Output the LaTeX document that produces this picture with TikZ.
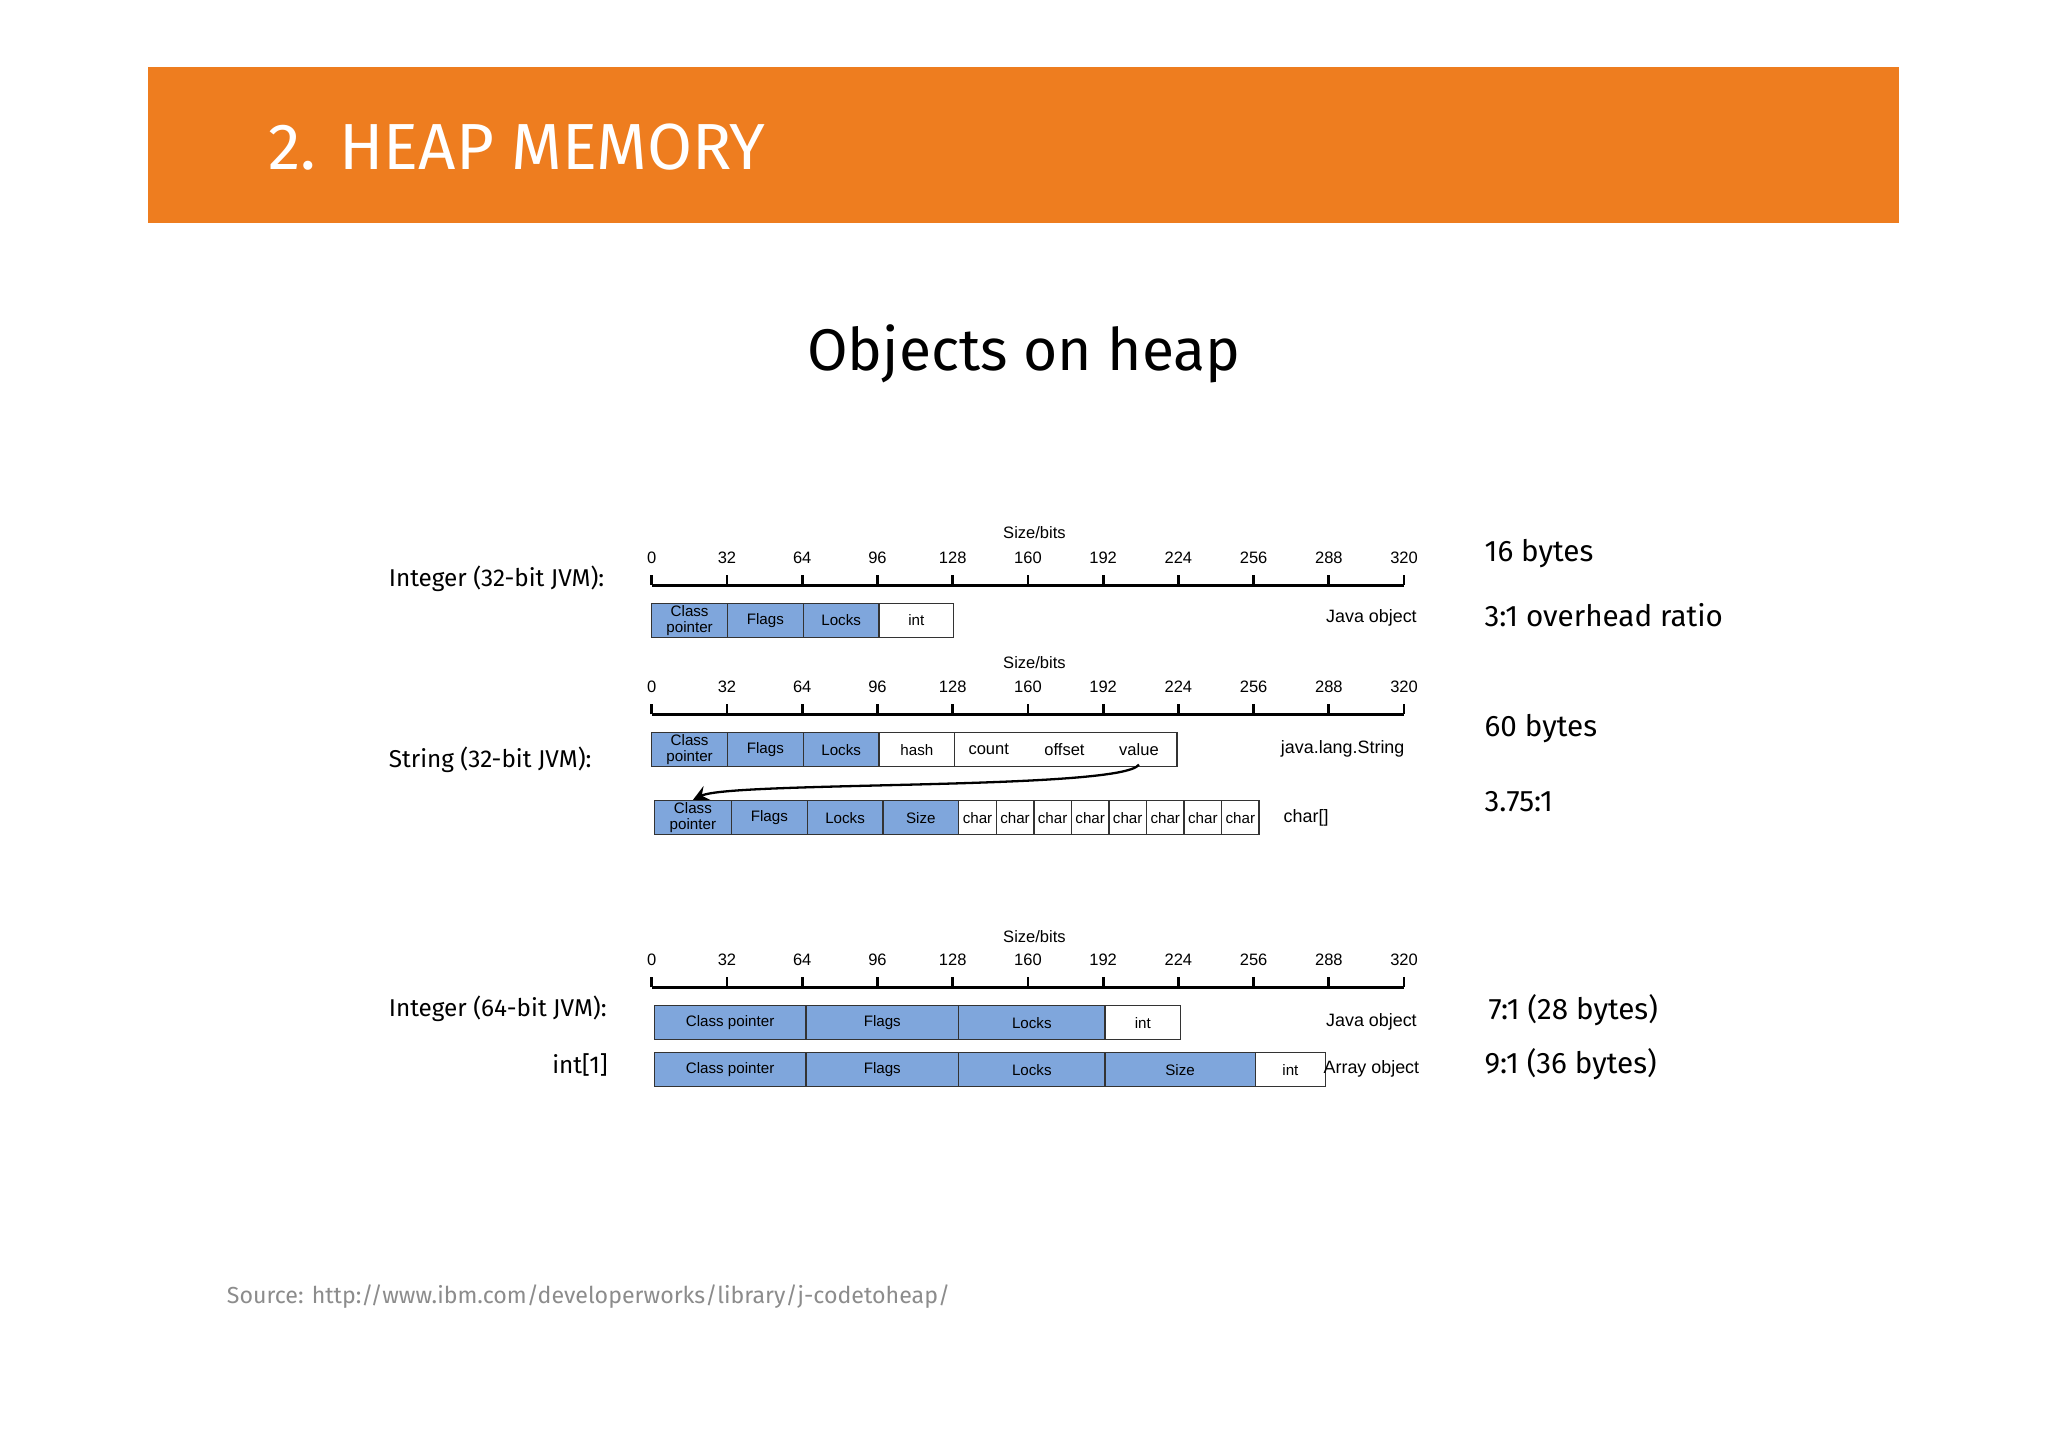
\documentclass[tikz,border=0pt]{standalone}
\usepackage{fontspec}
\setmainfont{Fira Sans}
\newfontfamily\arialf{Liberation Sans}
\definecolor{orng}{HTML}{EE7D1F}
\definecolor{blu}{HTML}{7FA6DC}
\tikzset{
 fld/.style={draw=black!80,line width=0.3pt,fill=blu,inner sep=0pt,font=\arialf\fontsize{3.3}{3.4}\selectfont,align=center},
 wfld/.style={fld,fill=white},
 tick/.style={font=\arialf\fontsize{3.6}{4}\selectfont,inner sep=0pt},
 side/.style={font=\arialf\fontsize{3.9}{5}\selectfont,inner sep=0pt},
 lbl/.style={font=\fontsize{5.3}{6}\selectfont,inner sep=0pt},
 big/.style={font=\fontsize{6.45}{8}\selectfont,inner sep=0pt,anchor=west},
}
\begin{document}
\begin{tikzpicture}[x=0.1mm,y=-0.1mm]
\useasboundingbox (0,0) rectangle (1568,1107);
\fill[white] (0,0) rectangle (1568,1107);
\fill[orng] (113,51) rectangle (1454,171);
\node[anchor=base west,text=white,inner sep=0pt,font=\fontsize{14.2}{17}\selectfont] (title) at (205,130) {2. HEAP MEMORY};
\node[anchor=base,inner sep=0pt,font=\fontsize{12.8}{15}\selectfont] (head) at (784,284) {Objects on heap};
% rulers
\foreach \r/\ly/\ay/\sy in {a/427/448/408, b/526/547/507, c/735/756/717}{
 \node[tick] (sz\r) at (792,\sy) {Size/bits};
 \draw[line width=0.6pt] (499,\ay) coordinate (l\r) -- (1075,\ay) coordinate (r\r);
 \foreach \i in {0,...,10}{
   \pgfmathtruncatemacro{\v}{\i*32}
   \draw[line width=0.6pt] (499+\i*57.6,\ay) -- (499+\i*57.6,\ay-8);
   \node[tick] (t\r\i) at (499+\i*57.6,\ly) {\v};
 }
}
% row 1
\node[fld,minimum width=58*0.1mm,minimum height=26*0.1mm] (a1) at (528,475) {Class\\pointer};
\node[fld,minimum width=58*0.1mm,minimum height=26*0.1mm] (a2) at (586,475) {Flags};
\node[fld,minimum width=58*0.1mm,minimum height=26*0.1mm] (a3) at (644,475) {Locks};
\node[wfld,minimum width=57*0.1mm,minimum height=26*0.1mm] (a4) at (701.5,475) {int};
% string
\node[fld,minimum width=58*0.1mm,minimum height=26*0.1mm] (b1) at (528,574) {Class\\pointer};
\node[fld,minimum width=58*0.1mm,minimum height=26*0.1mm] (b2) at (586,574) {Flags};
\node[fld,minimum width=58*0.1mm,minimum height=26*0.1mm] (b3) at (644,574) {Locks};
\node[wfld,minimum width=58*0.1mm,minimum height=26*0.1mm] (b4) at (702,574) {hash};
\node[wfld,minimum width=170*0.1mm,minimum height=26*0.1mm] (b5) at (816,574) {};
\node[tick] (bc) at (757,574) {count};
\node[tick] (bo) at (815,574) {offset};
\node[tick] (bv) at (872,574) {value};
% char[]
\node[fld,minimum width=59*0.1mm,minimum height=26*0.1mm] (c1) at (530.5,626) {Class\\pointer};
\node[fld,minimum width=58*0.1mm,minimum height=26*0.1mm] (c2) at (589,626) {Flags};
\node[fld,minimum width=58*0.1mm,minimum height=26*0.1mm] (c3) at (647,626) {Locks};
\node[fld,minimum width=58*0.1mm,minimum height=26*0.1mm] (c4) at (705,626) {Size};
\foreach \i in {0,...,7}{
 \node[wfld,minimum width=28.75*0.1mm,minimum height=26*0.1mm] (ch\i) at (748.4+\i*28.75,626) {char};
}
% 64-bit
\node[fld,minimum width=116*0.1mm,minimum height=26*0.1mm] (d1) at (559,783) {Class pointer};
\node[fld,minimum width=117*0.1mm,minimum height=26*0.1mm] (d2) at (675.5,783) {Flags};
\node[fld,minimum width=112*0.1mm,minimum height=26*0.1mm] (d3) at (790,783) {Locks};
\node[wfld,minimum width=58*0.1mm,minimum height=26*0.1mm] (d4) at (875,783) {int};
\node[fld,minimum width=116*0.1mm,minimum height=26*0.1mm] (e1) at (559,819) {Class pointer};
\node[fld,minimum width=117*0.1mm,minimum height=26*0.1mm] (e2) at (675.5,819) {Flags};
\node[fld,minimum width=112*0.1mm,minimum height=26*0.1mm] (e3) at (790,819) {Locks};
\node[fld,minimum width=115*0.1mm,minimum height=26*0.1mm] (e4) at (903.5,819) {Size};
\node[wfld,minimum width=54*0.1mm,minimum height=26*0.1mm] (e5) at (988,819) {int};
\draw[-stealth,line width=0.5pt] (bv.south) ++(0,6) coordinate (vs) (vs) .. controls (860,605) and (560,598) .. (c1.north);
% side labels
\node[side] (j1) at (1050,473) {Java object};
\node[side] (j2) at (1028,573) {java.lang.String};
\node[side] (j3) at (1000,626) {char[]};
\node[side] (j4) at (1050,782) {Java object};
\node[side] (j5) at (1050,818) {Array object};
% left labels
\node[lbl,anchor=west] (L1) at (297,443) {Integer (32-bit JVM):};
\node[lbl,anchor=west] (L2) at (297,582) {String (32-bit JVM):};
\node[lbl,anchor=west] (L3) at (297,772) {Integer (64-bit JVM):};
\node[lbl,anchor=east] (L4) at (466,815) {int[1]};
% right labels
\node[big] (R1) at (1136,424) {16 bytes};
\node[big] (R2) at (1136,471) {3:1 overhead ratio};
\node[big] (R3) at (1136,558) {60 bytes};
\node[big] (R4) at (1136,614) {3.75:1};
\node[big] (R5) at (1139,773) {7:1 (28 bytes)};
\node[big] (R6) at (1136,815) {9:1 (36 bytes)};
\node[anchor=west,inner sep=0pt,text=black!45,font=\fontsize{5.05}{6}\selectfont] (src) at (173,993) {Source: http://www.ibm.com/developerworks/library/j-codetoheap/};
\end{tikzpicture}
\end{document}
